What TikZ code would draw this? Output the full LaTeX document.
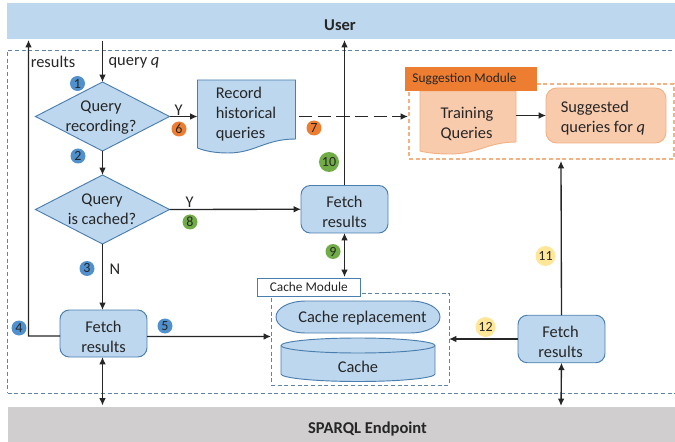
\documentclass[tikz,border=0pt]{standalone}
\usepackage{fontspec}
\setmainfont{Carlito}
\usetikzlibrary{arrows.meta,shapes.geometric,calc}
\definecolor{bluefill}{HTML}{BDD7EE}
\definecolor{blueline}{HTML}{4A7EAE}
\definecolor{dashblue}{HTML}{5F84AB}
\definecolor{badgeblue}{HTML}{4F90CD}
\definecolor{badgeorange}{HTML}{ED7D31}
\definecolor{badgegreen}{HTML}{70AD47}
\definecolor{badgeyellow}{HTML}{FFE699}
\definecolor{orangefill}{HTML}{F8CBAD}
\definecolor{orangeline}{HTML}{F4B183}
\definecolor{grayband}{HTML}{D0CECE}
\definecolor{ink}{HTML}{262626}
\tikzset{
  sz/.style 2 args={minimum width=#1*0.75pt,minimum height=#2*0.75pt,inner sep=0pt,outer sep=0pt},
  band/.style={rectangle,text=ink},
  bandtxt/.style={font=\bfseries\fontsize{12.4}{14}\selectfont,text=ink},
  txt/.style={font=\fontsize{12.3}{15}\selectfont,text=ink,align=left},
  procbox/.style={rectangle,rounded corners=7pt,draw=blueline,fill=bluefill,line width=0.7pt},
  decision/.style={diamond,aspect=1.95,draw=blueline,fill=bluefill,line width=0.7pt,inner sep=0pt,outer sep=0pt},
  docshape/.style={draw=blueline,fill=bluefill,line width=0.7pt},
  badge/.style={circle,inner sep=0pt,font=\fontsize{10.5}{11}\selectfont,text=ink},
  arr/.style={-{Latex[length=5.5pt,width=5pt]},draw=ink,line width=1pt},
  biarr/.style={{Latex[length=5.5pt,width=5pt]}-{Latex[length=5.5pt,width=5pt]},draw=ink,line width=1pt},
  dashbox/.style={rectangle,draw=dashblue,dash pattern=on 3pt off 2pt,line width=0.7pt},
}
\begin{document}
\begin{tikzpicture}[x=0.75pt,y=-0.75pt]
\useasboundingbox (0,0) rectangle (675,442);
% bands
\node[band,sz={668}{36},fill=bluefill] (user) at (341,21) {};
\node[bandtxt] (usert) at (340,25) {User};
\node[band,sz={667}{35},fill=grayband] (sparql) at (341.5,424.5) {};
\node[bandtxt] (sparqlt) at (367.5,429) {SPARQL Endpoint};
% outer dashed frame
\node[dashbox,sz={667.5}{343}] (outer) at (341.25,221.5) {};
% decisions
\node[decision,sz={134}{69}] (d1) at (102.5,116.5) {};
\node[txt,align=center] (d1t) at (101,117.5) {Query\\recording?};
\node[decision,sz={134}{69}] (d2) at (102.5,209.5) {};
\node[txt,align=center] (d2t) at (102,209.5) {Query\\is cached?};
% record document
\node[sz={98}{73}] (doca) at (246.5,116.5) {};
\draw[docshape] (197.5,80) -- (295.5,80) -- (295.5,139) .. controls (265,139) and (255,153) .. (228,153) .. controls (215,153) and (205,151) .. (197.5,148) -- cycle;
\node[txt] (docat) at (246,114) {Record\\historical\\queries};
% suggestion module
\node[rectangle,draw=orangeline,dash pattern=on 3pt off 2pt,line width=0.8pt,sz={265}{75}] (sugmod) at (541.5,121.5) {};
\node[sz={96}{63}] (docb) at (468,122.5) {};
\draw[draw=orangeline,fill=orangefill,line width=0.7pt] (420,91) -- (516,91) -- (516,142) .. controls (488,142) and (478,154) .. (450,154) .. controls (438,154) and (428,153) .. (420,151) -- cycle;
\node[rectangle,fill=badgeorange,sz={132}{24}] (sughead) at (471,79) {};
\node[font=\fontsize{10}{12}\selectfont,text=ink] (sught) at (464.5,79) {Suggestion Module};
\node[txt] (docbt) at (467,124) {Training\\Queries};
\node[rectangle,rounded corners=8pt,draw=orangeline,fill=orangefill,line width=0.7pt,sz={120}{55}] (sugg) at (606,115.5) {};
\node[txt] (suggt) at (603,118.5) {Suggested\\queries for \textit{q}};
% fetch boxes
\node[procbox,sz={87}{47.5}] (ft) at (344.5,209.25) {};
\node[txt,align=center] (ftt) at (344.5,212) {Fetch\\results};
\node[procbox,sz={87}{47}] (fl) at (103.5,333.5) {};
\node[txt,align=center] (flt) at (103.5,336.5) {Fetch\\results};
\node[procbox,sz={87}{47.5}] (fr) at (561.5,339) {};
\node[txt,align=center] (frt) at (560.5,342) {Fetch\\results};
% cache module
\node[dashbox,sz={178}{92}] (cachemod) at (360,339) {};
\node[rectangle,draw=blueline,fill=white,line width=0.6pt,sz={102.5}{18},font=\fontsize{10}{12}\selectfont,text=ink] (cachelab) at (308.75,287) {Cache Module};
\draw[docshape] (306,301) -- (410,301) .. controls (427,301) and (440,308) .. (440,317) .. controls (440,326) and (427,333) .. (410,333) -- (306,333) .. controls (289,333) and (276,326) .. (276,317) .. controls (276,308) and (289,301) .. (306,301) -- cycle;
\node[txt] (crep) at (362.5,318) {Cache replacement};
\draw[docshape] (281,345.5) .. controls (281,341.5) and (315,338) .. (358,338) .. controls (401,338) and (435,341.5) .. (435,345.5) -- (435,374) .. controls (435,378) and (401,381.5) .. (358,381.5) .. controls (315,381.5) and (281,378) .. (281,374) -- cycle;
\draw[docshape,fill=none] (281,345.5) .. controls (281,349.5) and (315,353) .. (358,353) .. controls (401,353) and (435,349.5) .. (435,345.5);
\node[txt] (cache) at (358,367) {Cache};
% free ends
\coordinate (qtop) at (102.5,41);
\coordinate (restop) at (28.5,40);
\coordinate (rescorner) at (28.5,336);
\coordinate (dashstart) at (299,116.5);
\coordinate (dashend) at (408,116.5);
\coordinate (ftup) at (344.5,40);
\coordinate (fldown) at (102.5,405.5);
\coordinate (frdown) at (561,406);
\coordinate (frup) at (561,161);
\coordinate (cachetop) at (344.5,277);
% connectors
\draw[arr] (qtop) -- (d1.north);
\draw[arr] ([yshift=-1.9pt]fl.west) -- (rescorner) -- (restop);
\draw[arr] (d1.east) -- (doca.west);
\draw[arr,dash pattern=on 10pt off 4pt] (dashstart) -- (dashend);
\draw[arr,line width=0.8pt] (docb.east |- sugg.west) -- (sugg.west);
\draw[arr] (d1.south) -- (d2.north);
\draw[arr] (d2.east) -- (ft.west);
\draw[arr] (d2.south) -- (d2.south |- fl.north);
\draw[arr] ([yshift=-2.2pt]fl.east) -- ([yshift=1.9pt]cachemod.west);
\draw[biarr] (d2.south |- fl.south) -- (fldown);
\draw[arr] (ft.north) -- (ftup);
\draw[biarr] (ft.south) -- (cachetop);
\draw[arr] (fr.west) -- (cachemod.east);
\draw[arr] (fr.north) -- (frup);
\draw[biarr] (fr.south) -- (frdown);
% labels
\node[txt] (lres) at (53,62) {results};
\node[txt] (lq) at (134,63) {query \textit{q}};
\node[txt] (ly1) at (178.5,110) {Y};
\node[txt] (ly2) at (189.5,202) {Y};
\node[txt] (ln) at (115,269.5) {N};
% badges
\node[badge,fill=badgeblue,sz={15}{15}] (b1) at (77.5,83.5) {1};
\node[badge,fill=badgeblue,sz={15}{15}] (b2) at (78,156) {2};
\node[badge,fill=badgeblue,sz={15}{15}] (b3) at (87,268.5) {3};
\node[badge,fill=badgeblue,sz={15}{15}] (b4) at (19,328) {4};
\node[badge,fill=badgeblue,sz={15}{15}] (b5) at (165,326) {5};
\node[badge,fill=badgeorange,sz={15}{15}] (b6) at (179,129) {6};
\node[badge,fill=badgeorange,sz={15}{15}] (b7) at (314,128) {7};
\node[badge,fill=badgegreen,sz={15}{15}] (b8) at (190,222) {8};
\node[badge,fill=badgegreen,sz={15}{15}] (b9) at (333,251.5) {9};
\node[badge,fill=badgegreen,sz={20}{20}] (b10) at (329,162) {10};
\node[badge,fill=badgeyellow,sz={20}{20}] (b11) at (545.5,256) {11};
\node[badge,fill=badgeyellow,sz={20}{20}] (b12) at (485.5,327) {12};
\end{tikzpicture}
\end{document}
